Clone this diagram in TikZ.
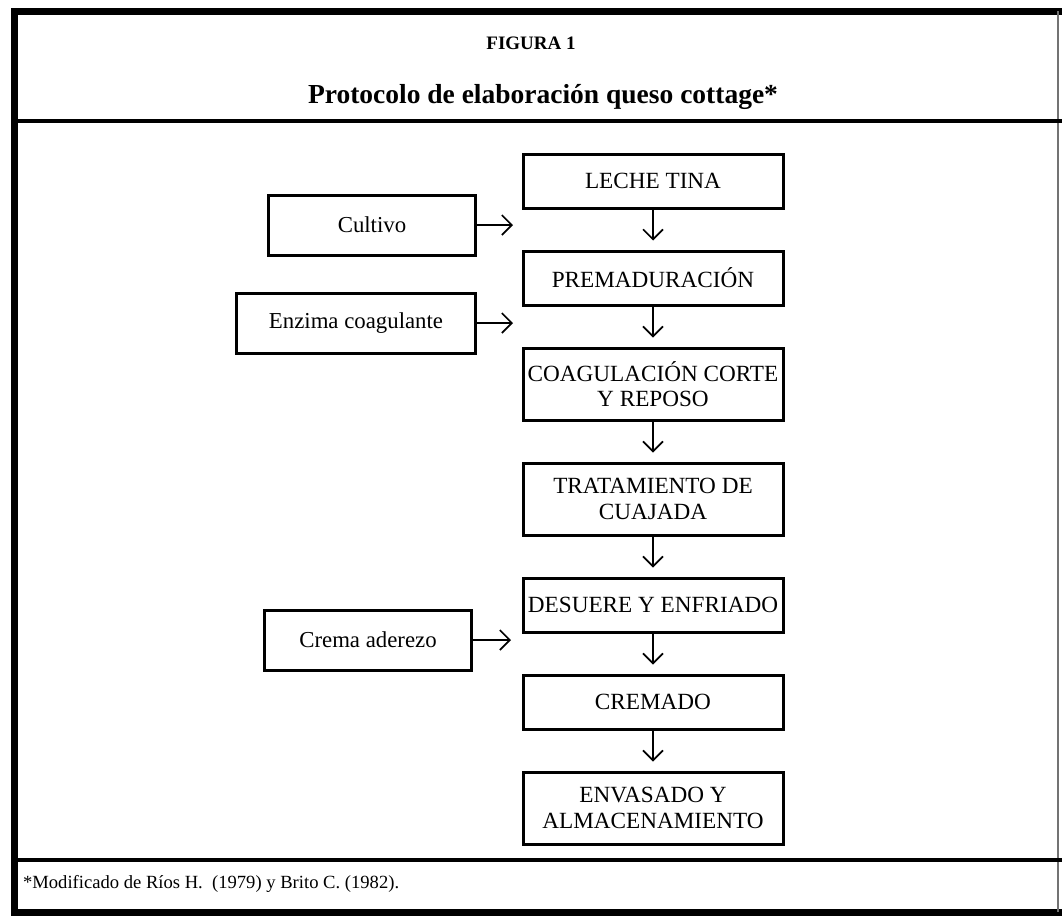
\documentclass[tikz,border=0pt]{standalone}
\usepackage{fontspec}
\setmainfont{Liberation Serif}
\usetikzlibrary{positioning,arrows.meta}

\tikzset{
  paso/.style={draw, line width=1.5pt, minimum width=130pt, minimum height=27pt,
    align=center, inner sep=1pt, font=\fontsize{11.6}{12.6}\selectfont},
  paso2/.style={paso, minimum height=36pt},
  insumo/.style={draw, line width=1.5pt, minimum height=30pt,
    align=center, font=\fontsize{11.4}{12.6}\selectfont},
  flecha/.style={->, line width=0.8pt, shorten >=4.5pt},
  entrada/.style={->, line width=0.8pt},
  marco/.style={line width=3.5pt, line cap=rect},
}

\begin{document}
\begin{tikzpicture}[x=0.5pt, y=-0.5pt, node distance=20pt,
    >={Straight Barb[length=5pt, width=10pt]}]
  \useasboundingbox (0,0) rectangle (1062,916);
  \fill[white] (0,0) rectangle (1062,916);

  % marco de la figura
  \draw[marco] (1062,11) -- (14,11) -- (14,912) -- (1062,912);
  \draw[line width=1pt, black!55] (1058,11) -- (1058,912);
  \draw[line width=2pt] (14,121) -- (1062,121);
  \draw[line width=2pt] (14,860) -- (1062,860);

  % encabezado
  \node[font=\bfseries\fontsize{9.5}{11}\selectfont] (figura) at (531,43) {FIGURA 1};
  \node[font=\bfseries\fontsize{13.75}{16}\selectfont] (titulo) at (543,97) {Protocolo de elaboración queso cottage*};

  % etapas del proceso
  \node[paso] (leche) at (653,181) {LECHE TINA};
  \node[paso, below=of leche] (premad) {PREMADURACIÓN};
  \node[paso2, below=of premad] (coag) {COAGULACIÓN CORTE\\Y REPOSO};
  \node[paso2, below=of coag] (trat) {TRATAMIENTO DE\\CUAJADA};
  \node[paso, below=of trat] (desuere) {DESUERE Y ENFRIADO};
  \node[paso, below=of desuere] (cremado) {CREMADO};
  \node[paso2, below=of cremado] (envasado) {ENVASADO Y\\ALMACENAMIENTO};

  % insumos
  \node[insumo, minimum width=103.5pt, anchor=east] (cultivo) at (477,225) {Cultivo};
  \node[insumo, minimum width=119.5pt, anchor=east] (enzima) at (477,323) {Enzima coagulante};
  \node[insumo, minimum width=103.5pt, anchor=east] (crema) at (473,640) {Crema aderezo};
  \coordinate (e1) at (513,225);
  \coordinate (e2) at (513,323);
  \coordinate (e3) at (511,640);

  \draw[flecha] (leche) -- (premad);
  \draw[flecha] (premad) -- (coag);
  \draw[flecha] (coag) -- (trat);
  \draw[flecha] (trat) -- (desuere);
  \draw[flecha] (desuere) -- (cremado);
  \draw[flecha] (cremado) -- (envasado);

  \draw[entrada] (cultivo.east) -- (e1);
  \draw[entrada] (enzima.east) -- (e2);
  \draw[entrada] (crema.east) -- (e3);

  % nota
  \node[anchor=west, font=\fontsize{9.3}{11}\selectfont] (nota) at (16,884) {*Modificado de Ríos H.\ \ (1979) y Brito C. (1982).};
\end{tikzpicture}
\end{document}
